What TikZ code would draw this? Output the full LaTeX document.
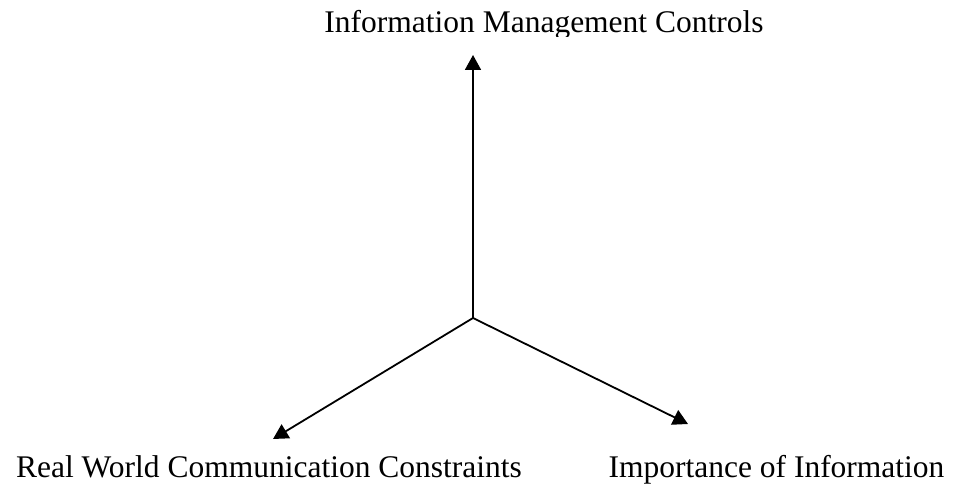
\documentclass[tikz,border=0pt]{standalone}
\usepackage{fontspec}
\setmainfont{Liberation Serif}
\usetikzlibrary{arrows.meta}
\tikzset{
  axis/.style={line width=1.8pt, -{Triangle[length=15pt,width=16pt]}},
  axislabel/.style={inner sep=0pt, anchor=base, font=\fontsize{31.5}{36}\selectfont}
}
\begin{document}
\begin{tikzpicture}[x=1pt,y=1pt]
\useasboundingbox (0,0) rectangle (957,487);
% origin of the three axes and their tips
\coordinate (o) at (473,169);
\coordinate (up) at (473,432);
\coordinate (left) at (273,48);
\coordinate (right) at (688,63);
\draw[axis] (o) -- (up);
\draw[axis] (o) -- (left);
\draw[axis] (o) -- (right);
% labels
\begin{scope}
  \clip (0,450) rectangle (957,487);
  \node[axislabel] (top) at (544,454) {Information Management Controls};
\end{scope}
\node[axislabel] (lbl-left) at (269,10) {Real World Communication Constraints};
\node[axislabel] (lbl-right) at (776.5,10) {Importance of Information};
\end{tikzpicture}
\end{document}
